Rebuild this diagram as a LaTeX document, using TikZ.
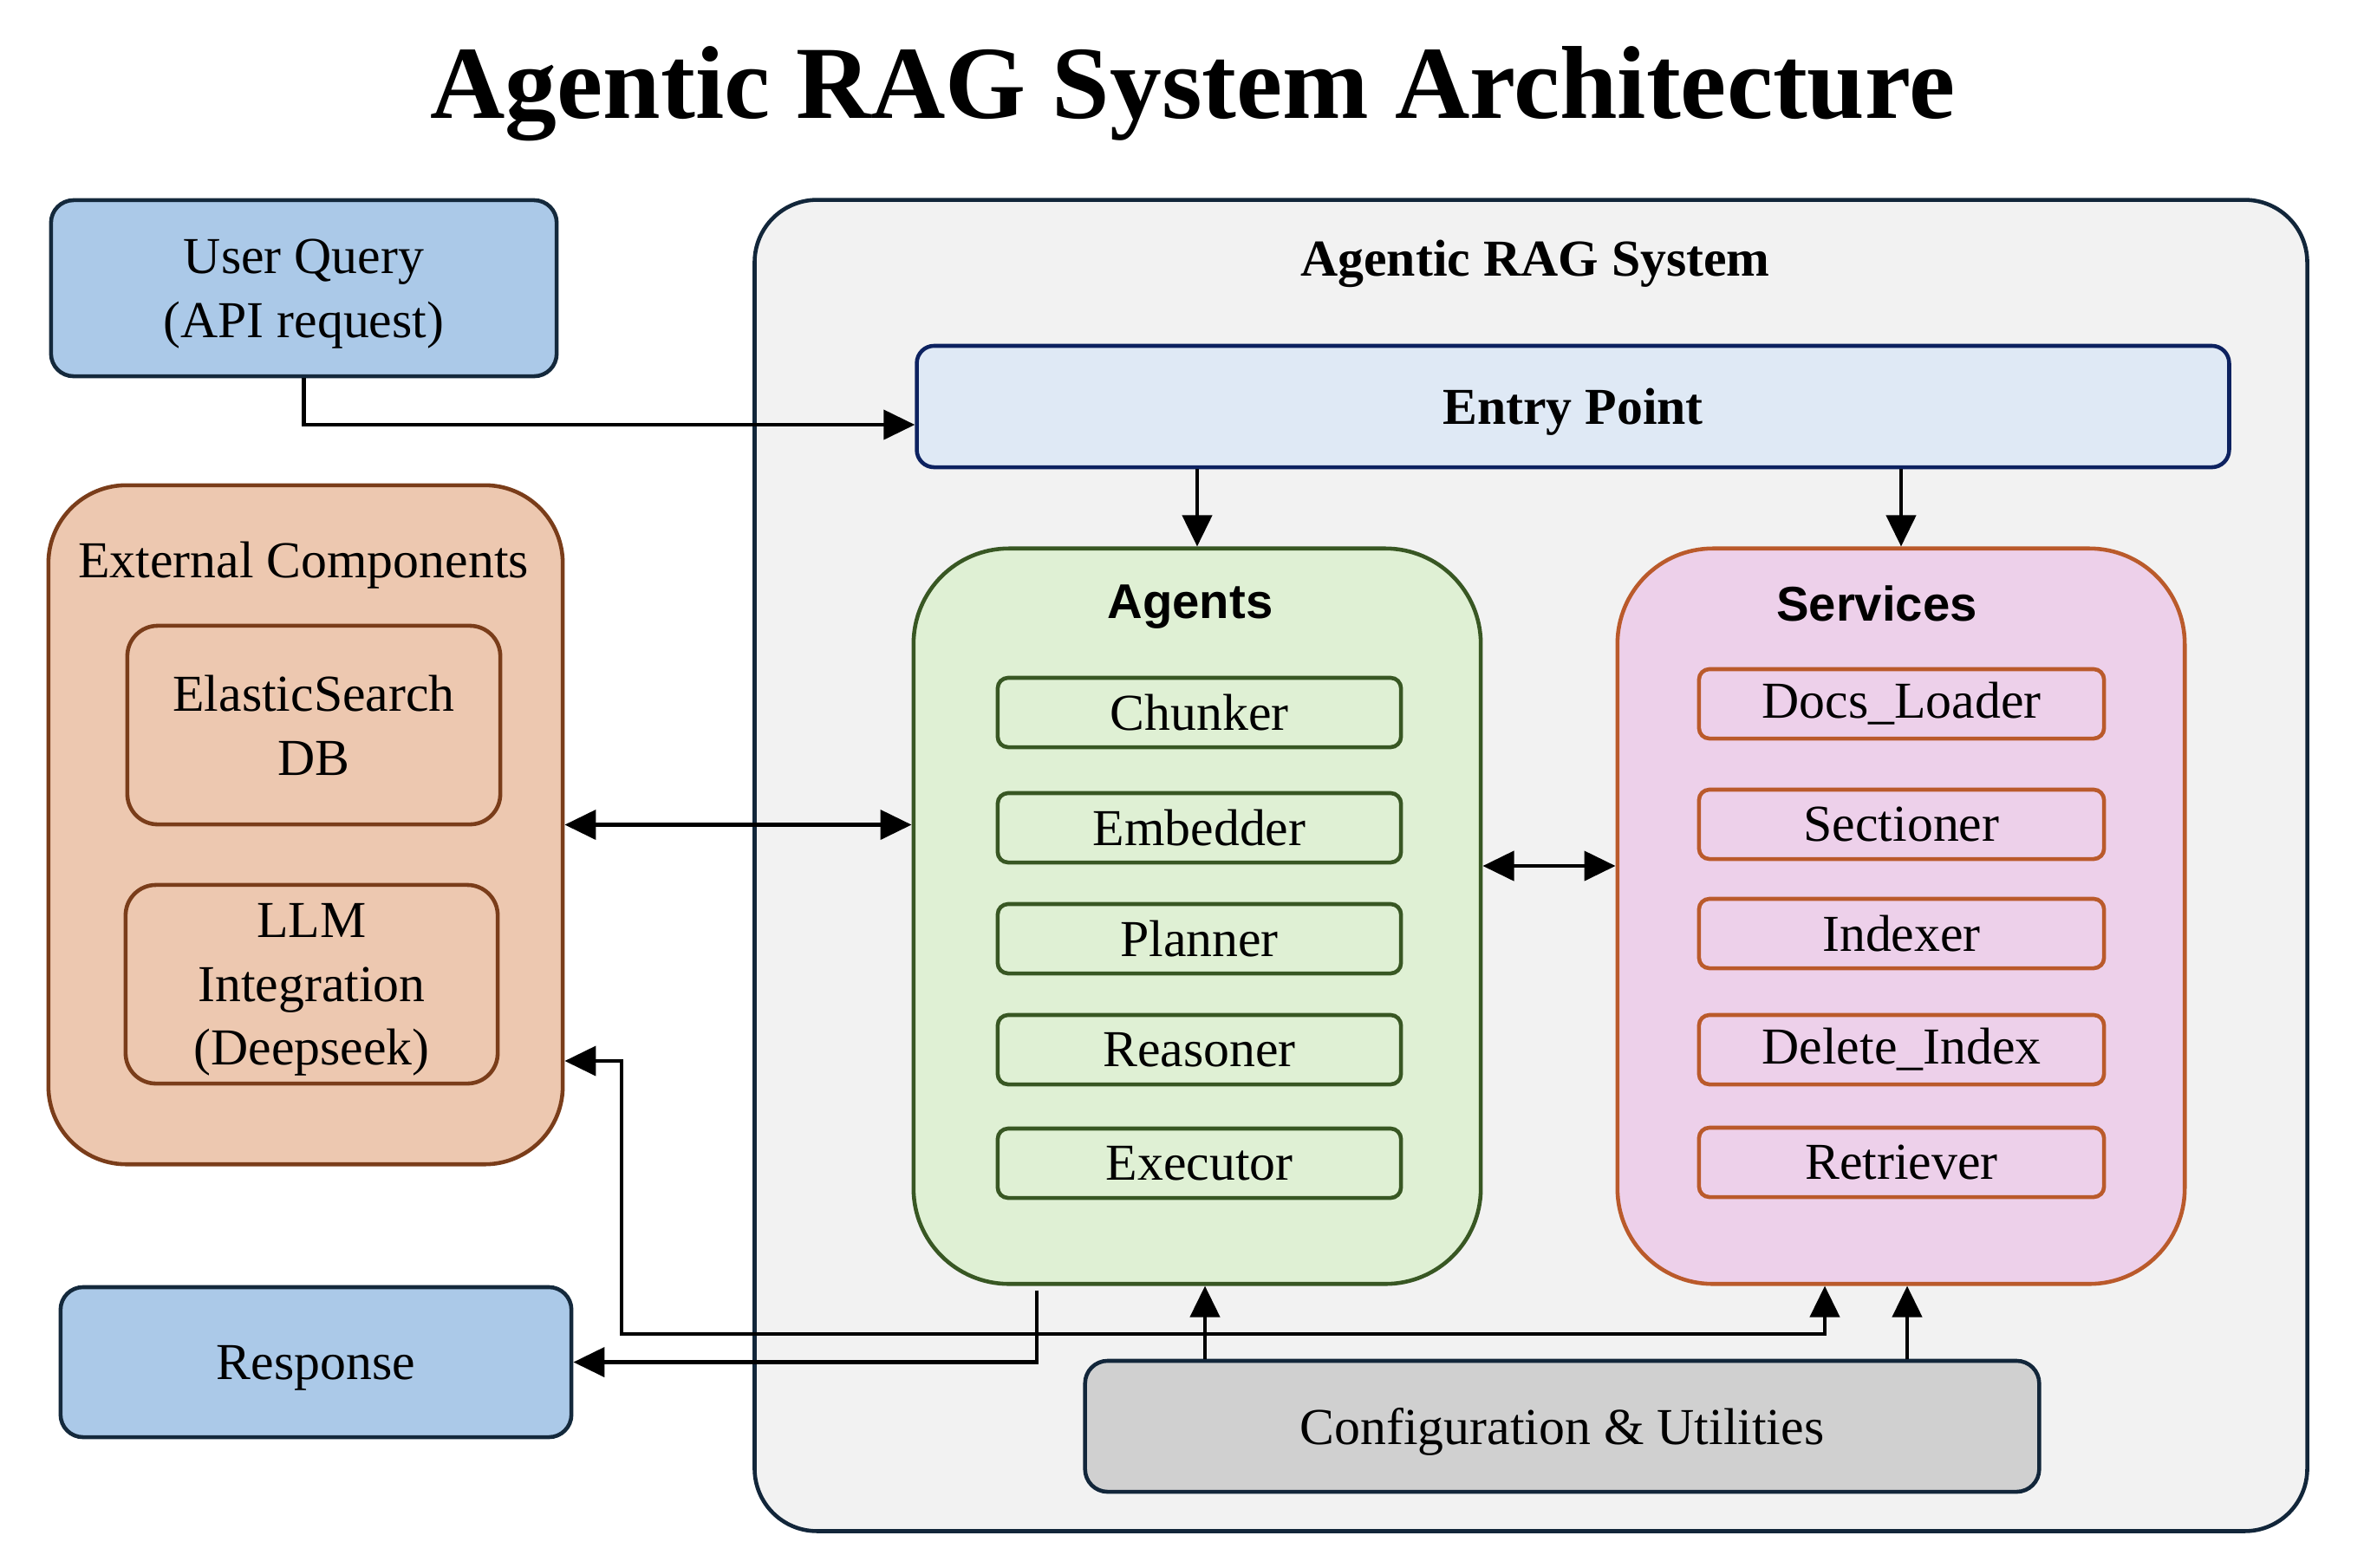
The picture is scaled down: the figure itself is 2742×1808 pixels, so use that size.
\documentclass[tikz,border=0pt]{standalone}
\usepackage{fontspec}
\setmainfont{Liberation Serif}
\newfontfamily\labsans{Liberation Sans}
\usetikzlibrary{arrows.meta,calc}
\definecolor{qfill}{HTML}{ABC9E8}
\definecolor{qdraw}{HTML}{14293C}
\definecolor{sysfill}{HTML}{F2F2F2}
\definecolor{sysdraw}{HTML}{12263A}
\definecolor{entfill}{HTML}{DFE9F5}
\definecolor{entdraw}{HTML}{0D2260}
\definecolor{extfill}{HTML}{EDC8B0}
\definecolor{extdraw}{HTML}{7A3D1A}
\definecolor{agfill}{HTML}{DFF0D4}
\definecolor{agdraw}{HTML}{385723}
\definecolor{svfill}{HTML}{EDD0EA}
\definecolor{svdraw}{HTML}{BA5A2B}
\definecolor{cfgfill}{HTML}{D0D0D0}
\tikzset{
  base/.style={inner sep=0pt, align=center, font=\fontsize{17pt}{21pt}\selectfont, line width=1.3pt},
  bigtext/.style={text depth=0pt},
  qbox/.style={base, bigtext, draw=qdraw, fill=qfill, rounded corners=0.26cm},
  sysbox/.style={base, draw=sysdraw, fill=sysfill, rounded corners=0.72cm},
  entbox/.style={base, bigtext, draw=entdraw, fill=entfill, rounded corners=0.2cm},
  extbox/.style={base, draw=extdraw, fill=extfill, rounded corners=0.9cm},
  extsub/.style={base, bigtext, draw=extdraw, fill=extfill, rounded corners=0.35cm},
  agbox/.style={base, draw=agdraw, fill=agfill, rounded corners=1.1cm},
  agsub/.style={base, draw=agdraw, fill=agfill, rounded corners=0.12cm, minimum width=4.65cm, minimum height=0.80cm},
  svbox/.style={base, draw=svdraw, fill=svfill, rounded corners=1.1cm},
  svsub/.style={base, draw=svdraw, fill=svfill, rounded corners=0.12cm, minimum width=4.67cm, minimum height=0.80cm},
  cfgbox/.style={base, bigtext, draw=sysdraw, fill=cfgfill, rounded corners=0.26cm},
  lbl/.style={inner sep=0pt, align=center, font=\fontsize{17pt}{21pt}\selectfont},
  boldlbl/.style={inner sep=0pt, font=\fontsize{17pt}{21pt}\selectfont\bfseries},
  sanslbl/.style={inner sep=0pt, font=\fontsize{16pt}{19pt}\selectfont\labsans\bfseries},
  arr/.style={line width=1.2pt, -{Triangle[length=3.6mm,width=3.4mm]}},
  darr/.style={line width=1.2pt, {Triangle[length=3.6mm,width=3.4mm]}-{Triangle[length=3.6mm,width=3.4mm]}}
}
\begin{document}
\begin{tikzpicture}[x=0.01cm,y=-0.01cm]
\useasboundingbox (0,0) rectangle (2742,1808);
\fill[white] (0,0) rectangle (2742,1808);

\node[inner sep=0pt, font=\fontsize{34pt}{40pt}\selectfont\bfseries] (title) at (1376,108) {Agentic RAG System Architecture};

% outer system
\node[sysbox, minimum width=17.90cm, minimum height=15.35cm] (sys) at (1766,998.5) {};
\node[boldlbl] (syslbl) at (1771,304) {Agentic RAG System};

\node[qbox, minimum width=5.83cm, minimum height=2.03cm] (uq) at (350.5,332.5) {User Query\\(API request)};

\node[entbox, minimum width=15.13cm, minimum height=1.40cm, font=\fontsize{17pt}{21pt}\selectfont\bfseries] (entry) at (1814.5,469) {Entry Point};

% external
\node[extbox, minimum width=5.93cm, minimum height=7.83cm] (ext) at (352.5,951.5) {};
\node[lbl] (extlbl) at (350,652) {External Components};
\node[extsub, minimum width=4.30cm, minimum height=2.29cm] (es) at (362,836.5) {ElasticSearch\\DB};
\node[extsub, minimum width=4.29cm, minimum height=2.29cm] (llm) at (359.5,1135.5) {LLM\\Integration\\(Deepseek)};

% agents
\node[agbox, minimum width=6.54cm, minimum height=8.48cm] (agents) at (1381,1057) {};
\node[sanslbl] (aglbl) at (1373,700) {Agents};
\node[agsub] (chunker) at (1383.5,822) {Chunker};
\node[agsub] (embedder) at (1383.5,955) {Embedder};
\node[agsub] (planner) at (1383.5,1083) {Planner};
\node[agsub] (reasoner) at (1383.5,1211) {Reasoner};
\node[agsub] (executor) at (1383.5,1342) {Executor};

% services
\node[svbox, minimum width=6.54cm, minimum height=8.48cm] (services) at (2193,1057) {};
\node[sanslbl] (svlbl) at (2165,696) {Services};
\node[svsub] (docs) at (2193.5,812) {Docs\_Loader};
\node[svsub] (sectioner) at (2193.5,951) {Sectioner};
\node[svsub] (indexer) at (2193.5,1077) {Indexer};
\node[svsub] (delidx) at (2193.5,1211) {Delete\_Index};
\node[svsub] (retriever) at (2193.5,1341) {Retriever};

% response & config
\node[qbox, minimum width=5.89cm, minimum height=1.73cm] (response) at (364.5,1571.5) {Response};
\node[cfgbox, minimum width=11.00cm, minimum height=1.51cm] (config) at (1802,1645.5) {Configuration \& Utilities};

% helper coordinates
\coordinate (uqy) at (0,490);
\coordinate (agsvy) at (0,999);
\coordinate (respx) at (1196,0);
\coordinate (llmy) at (0,1224);
\coordinate (loopx) at (717,0);
\coordinate (loopy) at (0,1539);
\coordinate (svin) at (2105,0);
\coordinate (cfgag) at (1390,0);
\coordinate (cfgsv) at (2200,0);

% connectors
\draw[arr] (uq.south) |- (entry.west |- uqy);
\draw[arr] (entry.south -| agents.north) -- (agents.north);
\draw[arr] (entry.south -| services.north) -- (services.north);
\draw[darr] (ext.east) -- (ext.east -| agents.west);
\draw[darr] (agents.east |- agsvy) -- (services.west |- agsvy);
\draw[arr] ([yshift=-0.05cm]agents.south -| respx) |- (response.east);
\draw[darr] (ext.east |- llmy) -| (loopx |- loopy) -| (services.south -| svin);
\draw[arr] (config.north -| cfgag) -- (agents.south -| cfgag);
\draw[arr] (config.north -| cfgsv) -- (services.south -| cfgsv);
\end{tikzpicture}
\end{document}
